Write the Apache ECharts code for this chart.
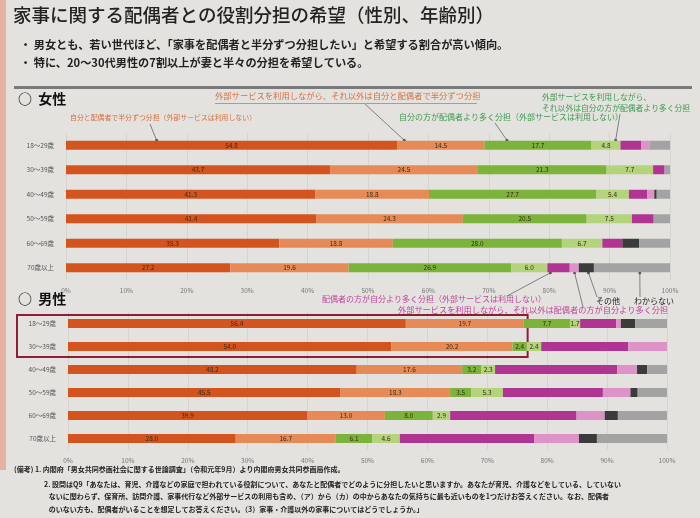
<!DOCTYPE html>
<html>
<head>
<meta charset="utf-8">
<script src="https://cdn.jsdelivr.net/npm/echarts@6/dist/echarts.min.js"></script>
<style>
  html, body { margin: 0; padding: 0; background: #e3e2de; }
  #chart { width: 700px; height: 518px; }
</style>
</head>
<body>
<div id="chart"></div>
<script>
// age groups (top to bottom)
const ages = ['18～29歳', '30～39歳', '40～49歳', '50～59歳', '60～69歳', '70歳以上'];

const segNames = [
    '自分と配偶者で半分ずつ分担（外部サービスは利用しない）',
    '外部サービスを利用しながら、それ以外は自分と配偶者で半分ずつ分担',
    '自分の方が配偶者より多く分担（外部サービスは利用しない）',
    '外部サービスを利用しながら、それ以外は自分の方が配偶者より多く分担',
    '配偶者の方が自分より多く分担（外部サービスは利用しない）',
    '外部サービスを利用しながら、それ以外は配偶者の方が自分より多く分担',
    'その他',
    'わからない'
];
const segColors = ['#d4541f', '#e68b57', '#7cb33b', '#b4d47c', '#b03592', '#dd93c8', '#3b3b3b', '#a3a3a3'];

// 女性
const wHalf      = [54.8, 43.7, 41.3, 41.4, 35.3, 27.2];
const wHalfSvc   = [14.5, 24.5, 18.8, 24.3, 18.8, 19.6];
const wMore      = [17.7, 21.3, 27.7, 20.5, 28.0, 26.9];
const wMoreSvc   = [4.8, 7.7, 5.4, 7.5, 6.7, 6.0];
const wSpouse    = [3.4, 1.9, 3.0, 3.6, 3.3, 3.7];
const wSpouseSvc = [1.4, 0, 1.2, 0, 0, 1.5];
const wOther     = [0, 0, 0.4, 0, 2.8, 2.5];
const wDontKnow  = [3.4, 0.9, 2.2, 2.7, 5.1, 12.6];

// 男性
const mHalf      = [56.4, 54.0, 48.2, 45.5, 39.9, 28.0];
const mHalfSvc   = [19.7, 20.2, 17.6, 18.3, 13.0, 16.7];
const mMore      = [7.7, 2.4, 3.2, 3.5, 8.0, 6.1];
const mMoreSvc   = [1.7, 2.4, 2.3, 5.3, 2.9, 4.6];
const mSpouse    = [6.0, 14.5, 20.4, 16.7, 21.1, 22.4];
const mSpouseSvc = [0.8, 6.5, 3.3, 4.6, 4.7, 7.5];
const mOther     = [2.4, 0, 1.7, 1.2, 2.2, 3.0];
const mDontKnow  = [5.3, 0, 3.3, 4.9, 8.2, 11.7];

const womenData = [wHalf, wHalfSvc, wMore, wMoreSvc, wSpouse, wSpouseSvc, wOther, wDontKnow];
const menData = [mHalf, mHalfSvc, mMore, mMoreSvc, mSpouse, mSpouseSvc, mOther, mDontKnow];

const FONT = '"Noto Sans CJK JP", "Noto Sans", sans-serif';

function makeSeries(dataSet, idx, stack) {
    return dataSet.map(function (vals, i) {
        return {
            type: 'bar',
            name: segNames[i],
            stack: stack,
            xAxisIndex: idx,
            yAxisIndex: idx,
            barWidth: 9,
            data: vals,
            itemStyle: { color: segColors[i] },
            label: {
                show: i < 4,
                position: 'inside',
                fontSize: 6.5,
                fontFamily: FONT,
                color: '#3a2a15',
                formatter: function (p) { return p.value.toFixed(1); }
            },
            emphasis: { disabled: true },
            animation: false
        };
    });
}

function xAxisFor(gridIndex) {
    return {
        type: 'value',
        gridIndex: gridIndex,
        min: 0,
        max: 100,
        interval: 10,
        axisLine: { show: false },
        axisTick: { show: false },
        splitLine: { show: true, lineStyle: { color: 'rgba(0,0,0,0.06)' } },
        axisLabel: { fontSize: 6.5, color: '#777', margin: 7, fontFamily: FONT, formatter: '{value}%' }
    };
}

function yAxisFor(gridIndex) {
    return {
        type: 'category',
        gridIndex: gridIndex,
        data: ages,
        inverse: true,
        axisLine: { show: false },
        axisTick: { show: false },
        axisLabel: { fontSize: 6.5, color: '#555', margin: 12, fontFamily: FONT }
    };
}

const chart = echarts.init(document.getElementById('chart'));

const baseGraphics = [
    { type: 'rect', shape: { x: 0, y: 0, width: 6, height: 470 }, style: { fill: '#e7b1a3' }, silent: true },
    { type: 'text', left: 13, top: 6, style: { text: '家事に関する配偶者との役割分担の希望（性別、年齢別）', font: '500 18.5px ' + FONT, fill: '#222' } },
    { type: 'text', left: 20, top: 39, style: { text: '・ 男女とも、若い世代ほど、「家事を配偶者と半分ずつ分担したい」と希望する割合が高い傾向。', font: 'bold 11.2px ' + FONT, fill: '#222' } },
    { type: 'text', left: 20, top: 57, style: { text: '・ 特に、20～30代男性の7割以上が妻と半々の分担を希望している。', font: 'bold 11.2px ' + FONT, fill: '#222' } },
    { type: 'rect', shape: { x: 14, y: 86, width: 678, height: 3 }, style: { fill: '#7a7a7a' }, silent: true },
    { type: 'text', left: 18, top: 92, style: { text: '○  女性', font: 'bold 14px ' + FONT, fill: '#111' } },
    { type: 'text', left: 18, top: 292, style: { text: '○  男性', font: 'bold 14px ' + FONT, fill: '#111' } },
    // annotations (women)
    { type: 'text', left: 70, top: 114, style: { text: segNames[0], font: '6.9px ' + FONT, fill: '#d86f3c' } },
    { type: 'text', left: 215, top: 92, style: { text: segNames[1], font: '8.3px ' + FONT, fill: '#d86f3c' } },
    { type: 'rect', shape: { x: 215, y: 103, width: 262, height: 0.8 }, style: { fill: '#d86f3c' }, silent: true },
    { type: 'text', left: 399, top: 113, style: { text: segNames[2], font: '8px ' + FONT, fill: '#3d9a4d' } },
    { type: 'text', left: 542, top: 92, style: { text: '外部サービスを利用しながら、\nそれ以外は自分の方が配偶者より多く分担', font: '7.8px ' + FONT, fill: '#3d9a4d', lineHeight: 11 } },
    // annotations (men)
    { type: 'text', left: 322, top: 295, style: { text: segNames[4], font: '8px ' + FONT, fill: '#c2439d' } },
    { type: 'text', left: 398, top: 306, style: { text: segNames[5], font: '8.2px ' + FONT, fill: '#c2439d' } },
    { type: 'text', left: 596, top: 297, style: { text: 'その他', font: '8px ' + FONT, fill: '#222' } },
    { type: 'text', left: 634, top: 297, style: { text: 'わからない', font: '8px ' + FONT, fill: '#222' } },
    // notes
    { type: 'text', left: 14, top: 466, style: { text: '(備考) 1. 内閣府「男女共同参画社会に関する世論調査」（令和元年9月）より内閣府男女共同参画局作成。', font: 'bold 7px ' + FONT, fill: '#222' } },
    { type: 'text', left: 44, top: 478, style: {
        text: '2. 設問はQ9「あなたは、育児、介護などの家庭で担われている役割について、あなたと配偶者でどのように分担したいと思いますか。あなたが育児、介護などをしている、していない\n   ないに関わらず、保育所、訪問介護、家事代行など外部サービスの利用も含め、（ア）から（カ）の中からあなたの気持ちに最も近いものを1つだけお答えください。なお、配偶者\n   のいない方も、配偶者がいることを想定してお答えください。（3）家事・介護以外の家事についてはどうでしょうか。」',
        font: 'bold 7px ' + FONT, fill: '#222', lineHeight: 12.5 } }
];

chart.setOption({
    backgroundColor: '#e3e2de',
    animation: false,
    textStyle: { fontFamily: FONT },
    grid: [
        { left: 66, right: 30, top: 133, height: 147 },
        { left: 68, right: 33, top: 312, height: 138 }
    ],
    xAxis: [xAxisFor(0), xAxisFor(1)],
    yAxis: [yAxisFor(0), yAxisFor(1)],
    series: makeSeries(womenData, 0, 'w').concat(makeSeries(menData, 1, 'm')),
    graphic: baseGraphics
});

// leader lines, placed through the axes
function px(gridIdx, value, cat) {
    return chart.convertToPixel({ xAxisIndex: gridIdx, yAxisIndex: gridIdx }, [value, cat]);
}
function leader(from, to) {
    return [
        { type: 'line', shape: { x1: from[0], y1: from[1], x2: to[0], y2: to[1] }, style: { stroke: '#666', lineWidth: 0.8 }, silent: true },
        { type: 'circle', shape: { cx: to[0], cy: to[1], r: 1.5 }, style: { fill: '#555' }, silent: true }
    ];
}
const topOf = function (p) { return [p[0], p[1] - 5]; };
const botOf = function (p) { return [p[0], p[1] + 5]; };

let lines = [];
lines = lines.concat(leader([150, 124], topOf(px(0, 15, 0))));
lines = lines.concat(leader([365, 104], topOf(px(0, 56, 0))));
lines = lines.concat(leader([495, 123], topOf(px(0, 73, 0))));
lines = lines.concat(leader([620, 114], topOf(px(0, 91, 0))));
lines = lines.concat(leader([507, 296], botOf(px(0, 80.2, 5))));
lines = lines.concat(leader([583, 307], botOf(px(0, 84.2, 5))));
lines = lines.concat(leader([597, 297], botOf(px(0, 86.5, 5))));
lines = lines.concat(leader([640, 297], botOf(px(0, 95, 5))));

// red frame around 18-39 men
const r0 = px(1, 76.4, 0);
const r1 = px(1, 76.4, 1);
lines.push({
    type: 'rect',
    shape: { x: 17, y: r0[1] - 8.5, width: r0[0] + 2 - 17, height: r1[1] - r0[1] + 19 },
    style: { fill: 'none', stroke: '#8e1f33', lineWidth: 2 },
    silent: true
});

chart.setOption({ graphic: baseGraphics.concat(lines) });
</script>
</body>
</html>
